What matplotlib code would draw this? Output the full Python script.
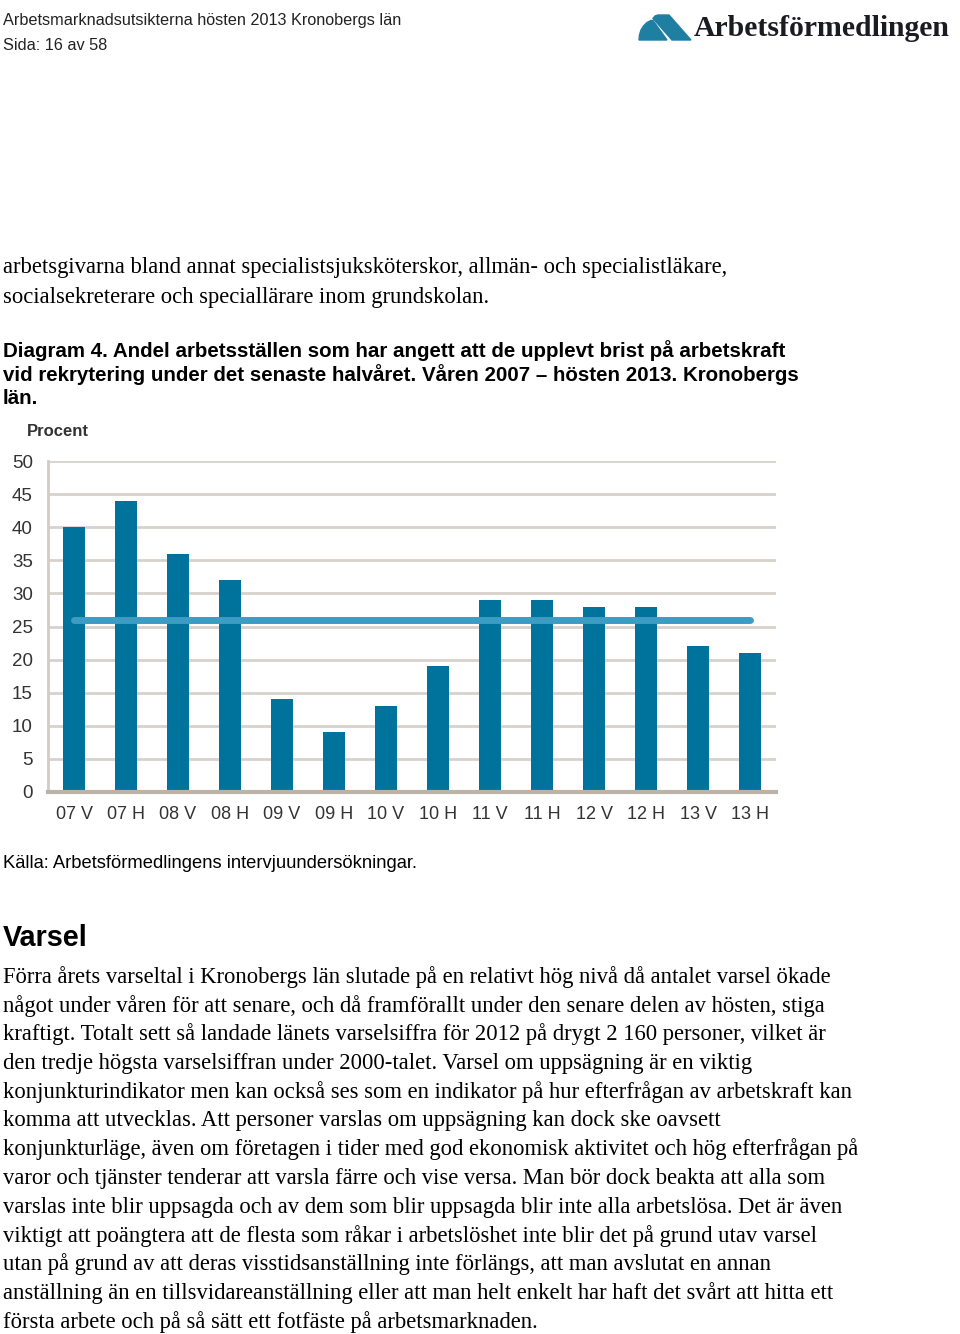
import numpy as np
import matplotlib.pyplot as plt
from matplotlib.patches import Polygon

# Data
perioder = ['07 V', '07 H', '08 V', '08 H', '09 V', '09 H', '10 V',
            '10 H', '11 V', '11 H', '12 V', '12 H', '13 V', '13 H']
andel = [40, 44, 36, 32, 14, 9, 13, 19, 29, 29, 28, 28, 22, 21]
genomsnitt = 26
yticks = [0, 5, 10, 15, 20, 25, 30, 35, 40, 45, 50]

header = ["Arbetsmarknadsutsikterna hösten 2013 Kronobergs län", "Sida: 16 av 58"]
intro = ["arbetsgivarna bland annat specialistsjuksköterskor, allmän- och specialistläkare,",
         "socialsekreterare och speciallärare inom grundskolan."]
caption = ["Diagram 4. Andel arbetsställen som har angett att de upplevt brist på arbetskraft",
           "vid rekrytering under det senaste halvåret. Våren 2007 – hösten 2013. Kronobergs",
           "län."]
kalla = "Källa: Arbetsförmedlingens intervjuundersökningar."
rubrik = "Varsel"
brodtext = [
    "Förra årets varseltal i Kronobergs län slutade på en relativt hög nivå då antalet varsel ökade",
    "något under våren för att senare, och då framförallt under den senare delen av hösten, stiga",
    "kraftigt. Totalt sett så landade länets varselsiffra för 2012 på drygt 2 160 personer, vilket är",
    "den tredje högsta varselsiffran under 2000-talet. Varsel om uppsägning är en viktig",
    "konjunkturindikator men kan också ses som en indikator på hur efterfrågan av arbetskraft kan",
    "komma att utvecklas. Att personer varslas om uppsägning kan dock ske oavsett",
    "konjunkturläge, även om företagen i tider med god ekonomisk aktivitet och hög efterfrågan på",
    "varor och tjänster tenderar att varsla färre och vise versa. Man bör dock beakta att alla som",
    "varslas inte blir uppsagda och av dem som blir uppsagda blir inte alla arbetslösa. Det är även",
    "viktigt att poängtera att de flesta som råkar i arbetslöshet inte blir det på grund utav varsel",
    "utan på grund av att deras visstidsanställning inte förlängs, att man avslutat en annan",
    "anställning än en tillsvidareanställning eller att man helt enkelt har haft det svårt att hitta ett",
    "första arbete och på så sätt ett fotfäste på arbetsmarknaden.",
]

W, H = 960, 1334
fig = plt.figure(figsize=(W / 100, H / 100), dpi=100)
fig.patch.set_facecolor('white')
renderer = fig.canvas.get_renderer()


def fit_size(lines, width, **kw):
    # fontsize so that the longest line gets the given pixel width
    t = fig.text(0, 0, max(lines, key=len), fontsize=10, **kw)
    w = t.get_window_extent(renderer).width
    t.remove()
    return 10 * width / w


def put(x, y, s, size, **kw):
    return fig.text(x / W, 1 - y / H, s, fontsize=size, va='center', ha='left', **kw)


def px(pts):
    return [(a / W, 1 - b / H) for a, b in pts]


# header
hs = fit_size(header[:1], 400, family='Liberation Sans')
put(3, 20, header[0], hs, family='Liberation Sans', color='#222222')
put(3, 45, header[1], hs, family='Liberation Sans', color='#222222')

# logo
blue = '#1f7fa3'
fig.patches.append(Polygon(px([(639, 40), (639.5, 35), (641, 30), (643.5, 26), (647, 22.5),
                               (651, 20.5), (653, 20.5), (667, 40)]),
                           closed=True, color=blue, transform=fig.transFigure))
fig.patches.append(Polygon(px([(653, 18.5), (655, 16), (658, 15), (669, 15),
                               (691, 40), (672, 40)]),
                           closed=True, color=blue, transform=fig.transFigure))
ls = fit_size(["Arbetsförmedlingen"], 258, family='Liberation Serif', weight='bold')
put(694, 29, "Arbetsförmedlingen", ls, family='Liberation Serif', weight='bold', color='#1b1b22')

# intro text
ss = fit_size(intro[:1], 726, family='Liberation Serif')
for i, line in enumerate(intro):
    put(3, 268 + 29 * i, line, ss, family='Liberation Serif', color='black')

# caption
cs = fit_size(caption[:1], 783, family='Liberation Sans', weight='bold')
for i, line in enumerate(caption):
    put(3, 351 + 24 * i, line, cs, family='Liberation Sans', weight='bold', color='black')

# chart
ax = fig.add_axes([48 / W, 1 - 792 / H, 728 / W, 331 / H])
x = np.arange(len(perioder))
ax.bar(x, andel, width=0.42, color='#00739c', zorder=2)
ax.plot([x[0], x[-1]], [genomsnitt, genomsnitt], color='#3d9cc4', lw=5,
        solid_capstyle='round', zorder=3)
ax.set_xlim(-0.5, len(perioder) - 0.5)
ax.set_ylim(0, 50)
ax.set_yticks(yticks)
ax.set_xticks(x)
ax.set_xticklabels(perioder)
ax.yaxis.grid(True, color='#d7d2cc', lw=2)
ax.set_axisbelow(True)
for s in ['top', 'right']:
    ax.spines[s].set_visible(False)
ax.spines['left'].set_color('#d2ccc5')
ax.spines['left'].set_linewidth(2)
ax.spines['bottom'].set_color('#bcb3a8')
ax.spines['bottom'].set_linewidth(3)
ax.tick_params(axis='y', length=0, pad=11, labelsize=13.5, labelcolor='#333333')
ax.tick_params(axis='x', length=0, pad=10, labelsize=13, labelcolor='#333333')
for lab in ax.get_xticklabels() + ax.get_yticklabels():
    lab.set_family('Liberation Sans')
put(27, 432, "Procent", 12, family='Liberation Sans', weight='bold', color='#333333')

# source and section
ks = fit_size([kalla], 415, family='Liberation Sans')
put(3, 864, kalla, ks, family='Liberation Sans', color='black')
rs = fit_size([rubrik], 85, family='Liberation Sans', weight='bold')
put(3, 938, rubrik, rs, family='Liberation Sans', weight='bold', color='black')

bs = fit_size([brodtext[4]], 852, family='Liberation Serif')
for i, line in enumerate(brodtext):
    put(3, 977 + 28.75 * i, line, bs, family='Liberation Serif', color='black')

fig.savefig('out.png', dpi=100)
